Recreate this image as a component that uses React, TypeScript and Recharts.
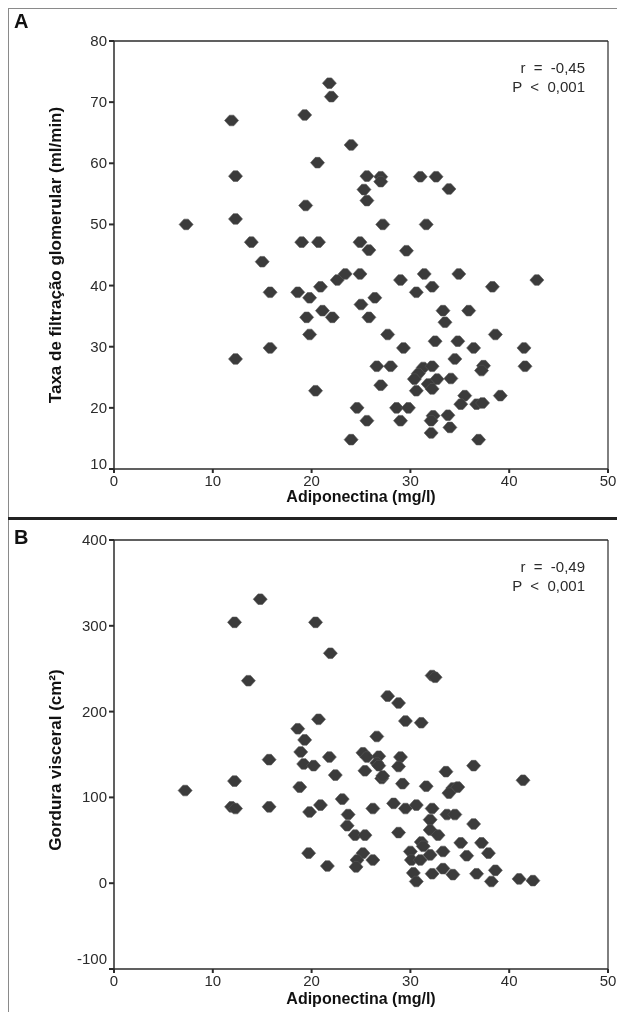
import { ScatterChart, Scatter, XAxis, YAxis, ReferenceLine } from "recharts";

// Painel A: adiponectina × taxa de filtração glomerular
const adipoA = [21.8, 22.0, 11.9, 19.3, 24.0, 20.6, 12.3, 25.6, 27.0, 27.0, 25.3, 19.4, 25.6, 12.3, 7.3, 27.2, 13.9, 19.0, 20.7, 24.9, 25.8, 29.6, 15.0, 15.8, 18.6, 19.8, 20.9, 22.6, 23.4, 24.9, 29.0, 31.4, 34.9, 42.8, 30.6, 32.2, 38.3, 26.4, 25.0, 19.5, 21.1, 22.1, 25.8, 33.3, 33.5, 35.9, 19.8, 27.7, 32.5, 34.8, 38.6, 15.8, 29.3, 36.4, 41.5, 34.5, 26.6, 28.0, 41.6, 31.3, 32.2, 30.8, 30.4, 32.7, 31.8, 32.2, 30.6, 37.4, 37.2, 34.1, 27.0, 20.4, 35.5, 35.1, 36.7, 37.3, 39.1, 24.6, 28.6, 29.8, 25.6, 29.0, 32.3, 32.1, 33.8, 34.0, 32.1, 24.0, 36.9, 12.3, 31.0, 32.6, 33.9, 31.6];
const tfg = [73.1, 70.9, 67.0, 67.9, 63.0, 60.1, 57.9, 57.9, 57.8, 57.0, 55.7, 53.1, 53.9, 50.9, 50.0, 50.0, 47.1, 47.1, 47.1, 47.1, 45.8, 45.7, 43.9, 38.9, 38.9, 38.0, 39.8, 40.9, 41.9, 41.9, 40.9, 41.9, 41.9, 40.9, 38.9, 39.8, 39.8, 38.0, 36.9, 34.8, 35.9, 34.8, 34.8, 35.9, 34.0, 35.9, 32.0, 32.0, 30.9, 30.9, 32.0, 29.8, 29.8, 29.8, 29.8, 28.0, 26.8, 26.8, 26.8, 26.6, 26.8, 25.6, 24.7, 24.7, 23.9, 23.1, 22.8, 26.9, 26.1, 24.8, 23.7, 22.8, 22.0, 20.6, 20.6, 20.8, 22.0, 20.0, 20.0, 20.0, 17.9, 17.9, 18.7, 17.9, 18.8, 16.8, 15.9, 14.8, 14.8, 28.0, 57.8, 57.8, 55.8, 50.0];

// Painel B: adiponectina × gordura visceral
const adipoB = [14.8, 12.2, 20.4, 21.9, 13.6, 27.7, 28.8, 29.5, 31.1, 20.7, 18.6, 19.3, 26.6, 18.9, 19.2, 20.2, 15.7, 21.8, 25.2, 25.6, 26.8, 26.6, 26.8, 25.4, 27.1, 27.2, 29.0, 28.8, 22.4, 29.2, 12.2, 18.8, 7.2, 33.6, 36.4, 41.4, 31.6, 34.3, 34.8, 33.9, 15.7, 19.8, 20.9, 23.1, 23.7, 26.2, 28.3, 29.5, 30.6, 32.2, 33.7, 34.5, 36.4, 23.6, 24.4, 25.4, 28.8, 32.0, 32.0, 32.8, 31.1, 31.3, 35.1, 37.2, 37.9, 19.7, 21.6, 25.2, 24.6, 24.5, 26.2, 30.0, 30.1, 31.0, 32.0, 33.3, 35.7, 30.3, 30.6, 32.2, 33.3, 34.3, 36.7, 38.6, 38.2, 41.0, 42.4, 32.2, 32.5, 11.9, 12.3];
const gordura = [331, 304, 304, 268, 236, 218, 210, 189, 187, 191, 180, 167, 171, 153, 139, 137, 144, 147, 152, 147, 148, 140, 137, 131, 122, 125, 147, 136, 126, 116, 119, 112, 108, 130, 137, 120, 113, 111, 112, 105, 89, 83, 91, 98, 80, 87, 93, 87, 91, 87, 80, 80, 69, 67, 56, 56, 59, 74, 62, 56, 48, 43, 47, 47, 35, 35, 20, 35, 27, 19, 27, 37, 27, 27, 33, 37, 32, 12, 2, 11, 17, 10, 11, 15, 2, 5, 3, 242, 240, 89, 87];

const xTicks = [0, 10, 20, 30, 40, 50];
const yTicksA = [10, 20, 30, 40, 50, 60, 70, 80];
const yTicksB = [-100, 0, 100, 200, 300, 400];

const dataA = adipoA.map((x, i) => ({ x, y: tfg[i] }));
const dataB = adipoB.map((x, i) => ({ x, y: gordura[i] }));

const FONT = '"Liberation Sans", Arial, Helvetica, sans-serif';
const INK = "#2b2b2b";
const MARK = "#3b3b3b";

const Diamond = (props: any) => {
  const { cx, cy } = props;
  if (cx == null || cy == null) return null;
  return (
    <path
      d={`M${cx - 7},${cy} L${cx - 2.2},${cy - 5.3} L${cx + 2.2},${cy - 5.3} L${cx + 7},${cy} L${cx + 2.2},${cy + 5.3} L${cx - 2.2},${cy + 5.3} Z`}
      fill={MARK}
      stroke="#555"
      strokeWidth={0.6}
    />
  );
};

const makeYTick = (min: number, shift: number) => (props: any) => {
  const { x, y, payload } = props;
  const dy = payload.value === min ? -shift : 0;
  return (
    <text x={x} y={y + dy} dy={5} textAnchor="end" fontSize={15} fill={INK} fontFamily={FONT}>
      {payload.value}
    </text>
  );
};

const axisProps = { stroke: INK, strokeWidth: 1.5 };

const Panel = ({ data, yDomain, yTicks, height, top, margin, shift, stats, title, letter, letterTop, xTitleTop }: any) => (
  <div style={{ position: "absolute", left: 0, top, width: 609, height }}>
    <ScatterChart width={609} height={height} margin={margin} style={{ overflow: "visible" }}>
      <XAxis
        type="number"
        dataKey="x"
        domain={[0, 50]}
        ticks={xTicks}
        interval={0}
        tickSize={4}
        axisLine={axisProps}
        tickLine={{ stroke: INK, strokeWidth: 2 }}
        tick={{ fontSize: 15, fill: INK, fontFamily: FONT }}
        height={30}
      />
      <YAxis
        type="number"
        dataKey="y"
        domain={yDomain}
        ticks={yTicks}
        interval={0}
        tickSize={5}
        width={106}
        axisLine={axisProps}
        tickLine={{ stroke: INK, strokeWidth: 2 }}
        tick={makeYTick(yDomain[0], shift)}
      />
      <ReferenceLine y={yDomain[1]} stroke={INK} strokeWidth={1.5} />
      <ReferenceLine x={50} stroke={INK} strokeWidth={1.2} />
      <Scatter data={data} shape={<Diamond />} isAnimationActive={false} />
    </ScatterChart>
    <div style={{ position: "absolute", right: 32, top: margin.top + 17, textAlign: "right", fontFamily: FONT, fontSize: 15, lineHeight: "19px", color: INK, whiteSpace: "pre" }}>
      <div>{stats[0]}</div>
      <div>{stats[1]}</div>
    </div>
    <div style={{ position: "absolute", left: 6, top: letterTop, fontFamily: FONT, fontSize: 20, fontWeight: 700, color: "#111" }}>
      {letter}
    </div>
    <div style={{ position: "absolute", left: 106, width: 494, top: xTitleTop, textAlign: "center", fontFamily: FONT, fontSize: 16, fontWeight: 700, color: "#111" }}>
      {"Adiponectina (mg/l)"}
    </div>
    <div style={{ position: "absolute", left: 48, top: title.cy, width: 0, height: 0 }}>
      <div style={{ position: "absolute", transform: "translate(-50%, -50%) rotate(-90deg)", whiteSpace: "nowrap", fontFamily: FONT, fontSize: 17, fontWeight: 700, color: "#111" }}>
        {title.text}
      </div>
    </div>
  </div>
);

export default function App() {
  return (
    <div style={{ position: "fixed", left: 8, top: 8, width: 609, height: 1004 }}>
      <div style={{ position: "absolute", left: 0, top: 0, width: 609, height: 1, background: "#8a8a8a" }} />
      <div style={{ position: "absolute", left: 0, top: 0, width: 1, height: 1004, background: "#8a8a8a" }} />
      <Panel
        data={dataA}
        yDomain={[10, 80]}
        yTicks={yTicksA}
        height={510}
        top={0}
        margin={{ top: 33, right: 9, bottom: 19, left: 0 }}
        shift={5}
        stats={["r  =  -0,45", "P  <  0,001"]}
        title={{ text: "Taxa de filtração glomerular (ml/min)", cy: 247 }}
        letter="A"
        letterTop={2}
        xTitleTop={480}
      />
      <div style={{ position: "absolute", left: 0, top: 509, width: 609, height: 3, background: "#222" }} />
      <Panel
        data={dataB}
        yDomain={[-100, 400]}
        yTicks={yTicksB}
        height={484}
        top={512}
        margin={{ top: 20, right: 9, bottom: 5, left: 0 }}
        shift={10}
        stats={["r  =  -0,49", "P  <  0,001"]}
        title={{ text: "Gordura visceral (cm²)", cy: 240 }}
        letter="B"
        letterTop={6}
        xTitleTop={470}
      />
    </div>
  );
}
